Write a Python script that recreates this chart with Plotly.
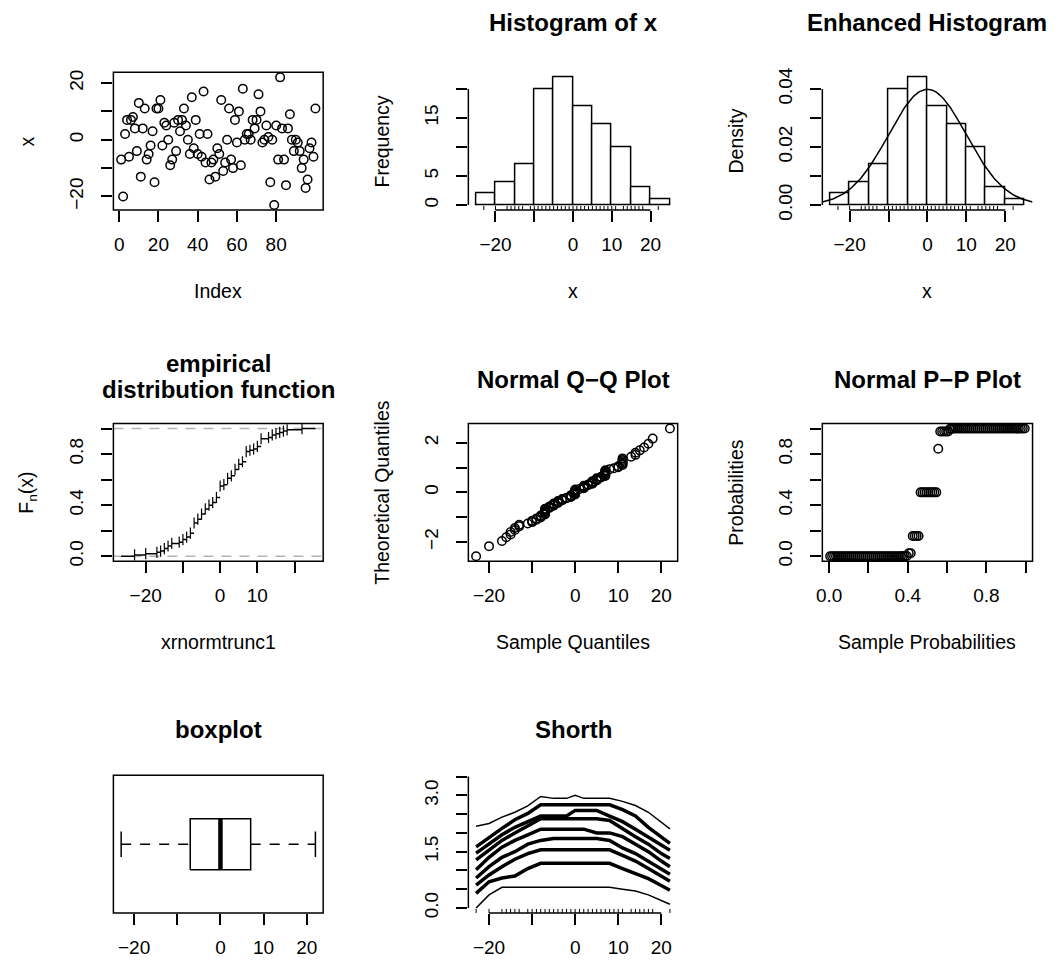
import numpy as np
import plotly.graph_objects as go
from statistics import NormalDist

# ---------------- data ----------------
X_VALUES = [-7, -20, 2, 7, -6, 7, 8, 4, -4, 13,
            -13, 4, 11, -7, -5, -2, 3, -15, 11, 11,
            14, -2, 6, 5, 0, -9, -7, 6, -4, 7,
            3, 7, 11, 5, 0, -5, 15, -3, 7, -5,
            2, -6, 17, -8, 2, -14, -8, -7, -13, -3,
            -5, 14, -11, -8, 0, 11, -7, -10, 7, -1,
            10, -9, 18, 0, 2, 2, 0, 7, 4, 7,
            16, 10, -1, 0, 5, 1, -15, 0, -23, 5,
            -7, 22, 4, -7, -16, 4, 9, 0, -4, 0,
            -1, -4, -10, -7, -17, -14, -3, -1, -6, 11]
HIST_BREAKS = [-25, -20, -15, -10, -5, 0, 5, 10, 15, 20, 25]
DENS_MEAN = 0.0
DENS_SD = 10.0

SHORTH_X = [-23, -20, -17, -14, -11, -8, -5, -2, 0, 2, 5, 8, 11, 14, 17, 20, 22]
SHORTH_A = [2.18, 2.25, 2.42, 2.55, 2.72, 2.97, 2.92, 2.92, 3.0, 2.92, 2.92, 2.92, 2.84, 2.73, 2.55, 2.3, 2.11]
SHORTH_B = [1.63, 1.88, 2.12, 2.35, 2.52, 2.75, 2.75, 2.75, 2.75, 2.75, 2.75, 2.75, 2.62, 2.45, 2.15, 1.88, 1.72]
SHORTH_C = [1.46, 1.7, 1.95, 2.15, 2.3, 2.45, 2.45, 2.45, 2.6, 2.6, 2.6, 2.45, 2.3, 2.1, 1.9, 1.68, 1.54]
SHORTH_D = [1.28, 1.55, 1.8, 2.0, 2.2, 2.38, 2.38, 2.38, 2.38, 2.38, 2.38, 2.33, 2.11, 1.9, 1.7, 1.45, 1.32]
SHORTH_E = [1.02, 1.35, 1.62, 1.8, 1.95, 2.1, 2.1, 2.1, 2.1, 2.1, 2.0, 2.0, 1.9, 1.7, 1.5, 1.25, 1.1]
SHORTH_F = [0.8, 1.1, 1.35, 1.5, 1.7, 1.8, 1.85, 1.85, 1.85, 1.85, 1.85, 1.8, 1.6, 1.45, 1.25, 1.05, 0.9]
SHORTH_G = [0.61, 0.88, 1.1, 1.3, 1.45, 1.55, 1.55, 1.55, 1.55, 1.55, 1.55, 1.55, 1.4, 1.25, 1.05, 0.85, 0.71]
SHORTH_H = [0.39, 0.7, 0.8, 0.85, 1.05, 1.19, 1.19, 1.19, 1.19, 1.19, 1.19, 1.19, 1.05, 0.92, 0.78, 0.6, 0.47]
SHORTH_I = [0.0, 0.35, 0.55, 0.55, 0.55, 0.55, 0.55, 0.55, 0.55, 0.55, 0.55, 0.55, 0.5, 0.45, 0.35, 0.2, 0.1]
SHORTH_THIN = [SHORTH_A, SHORTH_I]
SHORTH_THICK = [SHORTH_B, SHORTH_C, SHORTH_D, SHORTH_E, SHORTH_F, SHORTH_G, SHORTH_H]
SHORTH_YLIM = [0, 3.4]

# ---------------- layout helpers ----------------
W, H = 1057, 974
FONT = "Liberation Sans, Arial, Helvetica, sans-serif"
COLS = [(108, 319), (465, 675.5), (821, 1032.4)]
ROWS = [(68.3, 208.3), (425, 565), (782.3, 922.3)]
LW = 1.5
MINUS = "\u2212"


def xdom(c):
    l, r = COLS[c]
    return [l / W, r / W]


def ydom(r):
    t, b = ROWS[r]
    return [1 - b / H, 1 - t / H]


def rr(lo, hi):
    d = hi - lo
    return [lo - 0.04 * d, hi + 0.04 * d]


def fmt(v, nd=0):
    s = f"{abs(v):.{nd}f}"
    return (MINUS if v < 0 else "") + s


def labs(vals, show, nd=0):
    return [fmt(v, nd) if any(abs(v - s) < 1e-9 for s in show) else "" for v in vals]


def axis(dom, rng, anchor, tickvals, ticktext, vertical=False):
    d = dict(domain=dom, range=rng, anchor=anchor, showgrid=False, zeroline=False,
             showline=False, ticks="outside", ticklen=11, tickwidth=LW, tickcolor="black",
             tickmode="array", tickvals=tickvals, ticktext=ticktext,
             tickfont=dict(family=FONT, size=19, color="black"), fixedrange=True)
    if vertical:
        d["tickangle"] = -90
        d["ticklabelstandoff"] = 11
    else:
        d["ticklabelstandoff"] = 6
    return d


x = np.array(X_VALUES, dtype=float)
n = len(x)
xs = np.sort(x)

fig = go.Figure()
shapes = []
annotations = []


def frame(k):
    sx = "x" if k == 1 else f"x{k}"
    sy = "y" if k == 1 else f"y{k}"
    shapes.append(dict(type="rect", xref=f"{sx} domain", yref=f"{sy} domain",
                       x0=0, x1=1, y0=0, y1=1, line=dict(color="black", width=LW)))


def ann(text, px, py, size=19.5, bold=False, angle=0):
    if bold:
        text = f"<b>{text}</b>"
    annotations.append(dict(text=text, x=px / W, y=1 - py / H, xref="paper", yref="paper",
                            xanchor="center", yanchor="middle", showarrow=False, textangle=angle,
                            font=dict(family=FONT, size=size, color="black")))


def title(c, r, text, py):
    l, rgt = COLS[c]
    ann(text, (l + rgt) / 2, py, size=24, bold=True)


def xtitle(c, r, text):
    l, rgt = COLS[c]
    ann(text, (l + rgt) / 2, ROWS[r][1] + 82.4)


def ytitle(c, r, text):
    t, b = ROWS[r]
    ann(text, COLS[c][0] - 86.5, (t + b) / 2, angle=-90)


marker_open = dict(symbol="circle-open", size=8.5, color="black", line=dict(width=1.5, color="black"))

# 1. Index plot
idx = np.arange(1, n + 1)
fig.add_trace(go.Scatter(x=idx, y=x, mode="markers", marker=marker_open, xaxis="x", yaxis="y"))
lay = {}
lay["xaxis"] = axis(xdom(0), rr(1, n), "y", [0, 20, 40, 60, 80], ["0", "20", "40", "60", "80"])
lay["yaxis"] = axis(ydom(0), rr(xs[0], xs[-1]), "x", [-20, -10, 0, 10, 20],
                    labs([-20, -10, 0, 10, 20], [-20, 0, 20]), vertical=True)
frame(1)
xtitle(0, 0, "Index")
ytitle(0, 0, "x")

# 2. Histogram
br = np.array(HIST_BREAKS, dtype=float)
counts = np.array([np.sum((x > br[i]) & (x <= br[i + 1])) + (np.sum(x == br[0]) if i == 0 else 0)
                   for i in range(len(br) - 1)])
centers = (br[:-1] + br[1:]) / 2
widths = np.diff(br)
fig.add_trace(go.Bar(x=centers, y=counts, width=widths, xaxis="x2", yaxis="y2",
                     marker=dict(color="white", line=dict(color="black", width=LW))))
hx = rr(br[0], br[-1])
hy = rr(0, counts.max())
rug_x, rug_y = [], []
for v in np.unique(x):
    rug_x += [v, v, None]
    rug_y += [hy[0], hy[0] + 0.03 * (hy[1] - hy[0]), None]
fig.add_trace(go.Scatter(x=rug_x, y=rug_y, mode="lines", line=dict(color="black", width=1),
                         xaxis="x2", yaxis="y2"))
lay["xaxis2"] = axis(xdom(1), hx, "y2", [-20, -10, 0, 10, 20], labs([-20, -10, 0, 10, 20], [-20, 0, 10, 20]))
lay["yaxis2"] = axis(ydom(0), hy, "x2", [0, 5, 10, 15, 20], labs([0, 5, 10, 15, 20], [0, 5, 15]), vertical=True)
shapes.append(dict(type="line", xref="x2 domain", yref="y2", x0=0, x1=0, y0=0, y1=20,
                   line=dict(color="black", width=LW)))
shapes.append(dict(type="line", xref="x2", yref="y2 domain", x0=-20, x1=20, y0=0, y1=0,
                   line=dict(color="black", width=LW)))
title(1, 0, "Histogram of x", 17.7)
xtitle(1, 0, "x")
ytitle(1, 0, "Frequency")

# 3. Enhanced histogram (density)
dens = counts / (n * widths)
fig.add_trace(go.Bar(x=centers, y=dens, width=widths, xaxis="x3", yaxis="y3",
                     marker=dict(color="white", line=dict(color="black", width=LW))))
dx = rr(br[0], br[-1])
dy = rr(0, dens.max())
rug_y3 = []
for v in np.unique(x):
    rug_y3 += [dy[0], dy[0] + 0.03 * (dy[1] - dy[0]), None]
fig.add_trace(go.Scatter(x=rug_x, y=rug_y3, mode="lines", line=dict(color="black", width=1),
                         xaxis="x3", yaxis="y3"))
nd = NormalDist(DENS_MEAN, DENS_SD)
cx = np.linspace(dx[0], dx[1], 201)
cy = [nd.pdf(v) for v in cx]
fig.add_trace(go.Scatter(x=cx, y=cy, mode="lines", line=dict(color="black", width=LW),
                         xaxis="x3", yaxis="y3"))
lay["xaxis3"] = axis(xdom(2), dx, "y3", [-20, -10, 0, 10, 20], labs([-20, -10, 0, 10, 20], [-20, 0, 10, 20]))
dticks = [0, 0.01, 0.02, 0.03, 0.04]
lay["yaxis3"] = axis(ydom(0), dy, "x3", dticks, labs(dticks, [0, 0.02, 0.04], 2), vertical=True)
shapes.append(dict(type="line", xref="x3 domain", yref="y3", x0=0, x1=0, y0=0, y1=0.04,
                   line=dict(color="black", width=LW)))
shapes.append(dict(type="line", xref="x3", yref="y3 domain", x0=-20, x1=20, y0=0, y1=0,
                   line=dict(color="black", width=LW)))
title(2, 0, "Enhanced Histogram", 17.7)
xtitle(2, 0, "x")
ytitle(2, 0, "Density")

# 4. ECDF
knots, cnt = np.unique(x, return_counts=True)
Fk = np.cumsum(cnt) / n
drr = max(0.08 * (knots[-1] - knots[0]), np.median(np.diff(knots)))
exl = [knots[0] - drr, knots[-1] + drr]
ex = rr(exl[0], exl[1])
ey = rr(0, 1)
for lev in (0, 1):
    fig.add_trace(go.Scatter(x=ex, y=[lev, lev], mode="lines",
                             line=dict(color="#B3B3B3", width=LW, dash="10px,8px"),
                             xaxis="x4", yaxis="y4"))
hx_, hy_ = [exl[0], knots[0], None], [0, 0, None]
for i in range(len(knots)):
    right = knots[i + 1] if i + 1 < len(knots) else exl[1]
    hx_ += [knots[i], right, None]
    hy_ += [Fk[i], Fk[i], None]
fig.add_trace(go.Scatter(x=hx_, y=hy_, mode="lines", line=dict(color="black", width=LW),
                         xaxis="x4", yaxis="y4"))
fig.add_trace(go.Scatter(x=knots, y=Fk, mode="markers",
                         marker=dict(symbol="line-ns", size=8, line=dict(width=1.2, color="black")),
                         xaxis="x4", yaxis="y4"))
lay["xaxis4"] = axis(xdom(0), ex, "y4", [-20, -10, 0, 10, 20], labs([-20, -10, 0, 10, 20], [-20, 0, 10]))
eticks = [0, 0.2, 0.4, 0.6, 0.8, 1.0]
lay["yaxis4"] = axis(ydom(1), ey, "x4", eticks, labs(eticks, [0, 0.4, 0.8], 1), vertical=True)
frame(4)
title(0, 1, "empirical", 364)
title(0, 1, "distribution function", 390.7)
xtitle(0, 1, "xrnormtrunc1")
ytitle(0, 1, "F<sub>n</sub>(x)")

# 5. Normal Q-Q
std = NormalDist()
pp = (np.arange(1, n + 1) - 0.5) / n
tq = np.array([std.inv_cdf(p) for p in pp])
fig.add_trace(go.Scatter(x=xs, y=tq, mode="markers", marker=marker_open, xaxis="x5", yaxis="y5"))
lay["xaxis5"] = axis(xdom(1), rr(xs[0], xs[-1]), "y5", [-20, -10, 0, 10, 20],
                     labs([-20, -10, 0, 10, 20], [-20, 0, 10, 20]))
lay["yaxis5"] = axis(ydom(1), rr(tq[0], tq[-1]), "x5", [-2, -1, 0, 1, 2],
                     labs([-2, -1, 0, 1, 2], [-2, 0, 2]), vertical=True)
frame(5)
title(1, 1, "Normal Q\u2212Q Plot", 380.6)
xtitle(1, 1, "Sample Quantiles")
ytitle(1, 1, "Theoretical Quantiles")

# 6. Normal P-P
pr = np.array([std.cdf(v) for v in xs])
fig.add_trace(go.Scatter(x=pp, y=pr, mode="markers", marker=marker_open, xaxis="x6", yaxis="y6"))
pt = [0, 0.2, 0.4, 0.6, 0.8, 1.0]
lay["xaxis6"] = axis(xdom(2), rr(pp[0], pp[-1]), "y6", pt, labs(pt, [0, 0.4, 0.8], 1))
lay["yaxis6"] = axis(ydom(1), rr(pr.min(), pr.max()), "x6", pt, labs(pt, [0, 0.4, 0.8], 1), vertical=True)
frame(6)
title(2, 1, "Normal P\u2212P Plot", 380.6)
xtitle(2, 1, "Sample Probabilities")
ytitle(2, 1, "Probabilities")

# 7. Boxplot
n4 = np.floor((n + 3) / 2) / 2
d = np.array([1, n4, (n + 1) / 2, n + 1 - n4, n])
five = 0.5 * (xs[np.floor(d).astype(int) - 1] + xs[np.ceil(d).astype(int) - 1])
q1, med, q3 = five[1], five[2], five[3]
iqr = q3 - q1
wlo = xs[xs >= q1 - 1.5 * iqr].min()
whi = xs[xs <= q3 + 1.5 * iqr].max()
bl = dict(color="black", width=LW)
fig.add_trace(go.Scatter(x=[q1, q3, q3, q1, q1], y=[0.8, 0.8, 1.2, 1.2, 0.8], mode="lines",
                         line=bl, xaxis="x7", yaxis="y7"))
fig.add_trace(go.Scatter(x=[med, med], y=[0.8, 1.2], mode="lines", line=dict(color="black", width=4.5),
                         xaxis="x7", yaxis="y7"))
fig.add_trace(go.Scatter(x=[wlo, q1, None, q3, whi], y=[1, 1, None, 1, 1], mode="lines",
                         line=dict(color="black", width=LW, dash="10px,9px"), xaxis="x7", yaxis="y7"))
fig.add_trace(go.Scatter(x=[wlo, wlo, None, whi, whi], y=[0.9, 1.1, None, 0.9, 1.1], mode="lines",
                         line=bl, xaxis="x7", yaxis="y7"))
lay["xaxis7"] = axis(xdom(0), rr(xs[0], xs[-1]), "y7", [-20, -10, 0, 10, 20],
                     labs([-20, -10, 0, 10, 20], [-20, 0, 10, 20]))
lay["yaxis7"] = dict(domain=ydom(2), range=rr(0.5, 1.5), anchor="x7", showgrid=False, zeroline=False,
                     showline=False, showticklabels=False, ticks="", fixedrange=True)
frame(7)
title(0, 2, "boxplot", 735.7)

# 8. Shorth
for ys in SHORTH_THICK:
    fig.add_trace(go.Scatter(x=SHORTH_X, y=ys, mode="lines", line=dict(color="black", width=3.5),
                             xaxis="x8", yaxis="y8"))
for ys in SHORTH_THIN:
    fig.add_trace(go.Scatter(x=SHORTH_X, y=ys, mode="lines", line=dict(color="black", width=LW),
                             xaxis="x8", yaxis="y8"))
sy = rr(SHORTH_YLIM[0], SHORTH_YLIM[1])
rug_y8 = []
for v in np.unique(x):
    rug_y8 += [sy[0], sy[0] + 0.03 * (sy[1] - sy[0]), None]
fig.add_trace(go.Scatter(x=rug_x, y=rug_y8, mode="lines", line=dict(color="black", width=1),
                         xaxis="x8", yaxis="y8"))
lay["xaxis8"] = axis(xdom(1), rr(xs[0], xs[-1]), "y8", [-20, -10, 0, 10, 20],
                     labs([-20, -10, 0, 10, 20], [-20, 0, 10, 20]))
st = [0, 0.5, 1.0, 1.5, 2.0, 2.5, 3.0, 3.5]
lay["yaxis8"] = axis(ydom(2), sy, "x8", st, labs(st, [0, 1.5, 3.0], 1), vertical=True)
shapes.append(dict(type="line", xref="x8 domain", yref="y8", x0=0, x1=0, y0=0, y1=3.5,
                   line=dict(color="black", width=LW)))
shapes.append(dict(type="line", xref="x8", yref="y8 domain", x0=-20, x1=20, y0=0, y1=0,
                   line=dict(color="black", width=LW)))
title(1, 2, "Shorth", 735.7)

fig.update_layout(width=W, height=H, margin=dict(l=0, r=0, t=0, b=0), showlegend=False,
                  paper_bgcolor="white", plot_bgcolor="white", bargap=0,
                  shapes=shapes, annotations=annotations, **lay)
fig.write_html("out.html", config=dict(displayModeBar=False))
